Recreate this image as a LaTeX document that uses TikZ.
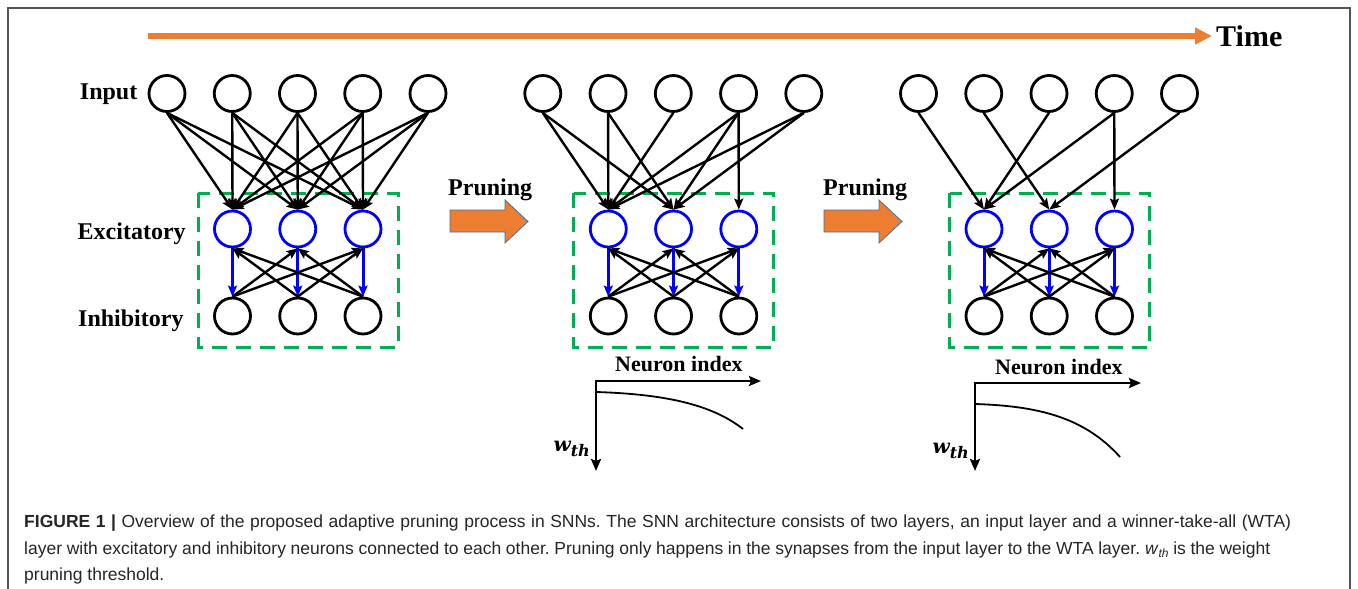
\documentclass[tikz,border=0pt]{standalone}
\usepackage{fontspec}
\setmainfont{Liberation Serif}
\setsansfont{Liberation Sans}
\newfontfamily\wfont{DejaVu Serif}
\usetikzlibrary{arrows.meta}
\frenchspacing

\definecolor{timeorange}{HTML}{ED7D31}
\definecolor{arrowedge}{HTML}{41719C}
\definecolor{wtagreen}{HTML}{00B050}
\definecolor{exblue}{HTML}{0000FF}
\definecolor{framegray}{HTML}{555555}
\definecolor{captext}{HTML}{262626}

% one SNN: #1 name prefix, #2 horizontal shift, #3 input->excitatory synapses
\newcommand\snnnet[3]{%
  \begin{scope}[xshift=#2pt]
    \draw[wtabox] (198,193) rectangle (398,347);
    \foreach \k in {1,...,5}
      \node[neuron] (#1i\k) at ({167+65.25*(\k-1)},93.5) {};
    \foreach \k in {1,2,3} {
      \node[exneuron] (#1e\k) at ({232.5+65.25*(\k-1)},229) {};
      \node[neuron] (#1h\k) at ({232.5+65.25*(\k-1)},316) {};
    }
  \end{scope}
  \foreach \s/\t in {#3}
    \draw[syn] (#1i\s.south) -- (#1e\t.north);
  \foreach \k in {1,2,3}
    \draw[exsyn] (#1e\k.south) -- (#1h\k.north);
  \foreach \j in {1,2,3} {
    \foreach \k in {1,2,3} {
      \ifnum\j=\k\else \draw[syn] (#1h\j.north) -- (#1e\k.south);\fi
    }
  }%
}

\begin{document}
\begin{tikzpicture}[x=1pt,y=-1pt,
  neuron/.style={circle,draw=black,fill=white,line width=2.8pt,minimum size=36pt,inner sep=0pt},
  exneuron/.style={neuron,draw=exblue},
  syn/.style={line width=2.4pt,-{Stealth[length=11pt,width=9pt,inset=2pt]}},
  exsyn/.style={exblue,line width=3pt,-{Stealth[length=11pt,width=9pt,inset=2pt]}},
  wtabox/.style={wtagreen,line width=3pt,dash pattern=on 15pt off 9pt},
  lbl/.style={inner sep=0pt,font=\fontsize{24}{28}\selectfont\bfseries},
  idx/.style={inner sep=0pt,font=\fontsize{22}{26}\selectfont\bfseries},
  graphaxis/.style={line width=2.7pt,line join=miter,
    {Stealth[length=12pt,width=10pt,inset=2pt]}-{Stealth[length=12pt,width=10pt,inset=2pt]}},
  wcurve/.style={line width=1.8pt},
  prune/.style={fill=timeorange,draw=arrowedge,line width=0.8pt},
  wlabel/.style={inner sep=0pt,anchor=base east,font=\wfont\bfseries\itshape\fontsize{20}{20}\selectfont},
  captxt/.style={inner sep=0pt,anchor=base west,text=captext,font=\sffamily\fontsize{17.5}{21}\selectfont}
]
\useasboundingbox (0,0) rectangle (1358,589);
\fill[white] (0,0) rectangle (1358,589);

% frame
\draw[framegray,line width=1.3pt] (8,600) -- (8,8) -- (1350,8) -- (1350,600);

% time axis
\coordinate (t0) at (148,36);
\coordinate (t1) at (1212,36);
\draw[timeorange,line width=6pt,-{Triangle[length=17pt,width=16pt]}] (t0) -- (t1);
\node[inner sep=0pt,anchor=base west,font=\fontsize{30}{34}\selectfont\bfseries] (time) at (1216,46.5) {Time};

% layer labels
\node[lbl,anchor=base east] (linput) at (137.5,99.5) {Input};
\node[lbl,anchor=base west] (lexc) at (77.5,239) {Excitatory};
\node[lbl,anchor=base west] (linh) at (78,326.5) {Inhibitory};

% the three networks
\snnnet{a}{0}{1/1,1/2,1/3,2/1,2/2,2/3,3/1,3/2,3/3,4/1,4/2,4/3,5/1,5/2,5/3}
\snnnet{b}{375.8}{1/1,1/2,2/1,2/2,3/1,4/1,4/2,4/3,5/1,5/2}
\snnnet{c}{751.5}{1/1,2/2,3/1,4/1,4/3,5/2}

% pruning steps
\node[lbl,anchor=base west] (p1) at (448,195.5) {Pruning};
\draw[prune] (450,210) -- (505,210) -- (505,200) -- (528,221.5) -- (505,243) -- (505,232) -- (450,232) -- cycle;
\node[lbl,anchor=base west] (p2) at (823,195.5) {Pruning};
\draw[prune] (824,210) -- (879,210) -- (879,200) -- (902,221.5) -- (879,243) -- (879,232) -- (824,232) -- cycle;

% threshold curves
\coordinate (go1) at (596,381);
\coordinate (gx1) at (761,381);
\coordinate (gy1) at (596,471);
\draw[graphaxis] (gx1) -- (go1) -- (gy1);
\draw[wcurve] (596,392) .. controls (660,394) and (710,403) .. (743,429);
\node[idx,anchor=base west] (n1) at (615,371.5) {Neuron index};
\node[wlabel] (w1) at (590,451) {w\raisebox{-5pt}{\fontsize{16}{16}\selectfont th}};

\coordinate (go2) at (975,383);
\coordinate (gx2) at (1141,383);
\coordinate (gy2) at (975,471);
\draw[graphaxis] (gx2) -- (go2) -- (gy2);
\draw[wcurve] (975,404) .. controls (1040,406) and (1085,418) .. (1120,457);
\node[idx,anchor=base west] (n2) at (995,374) {Neuron index};
\node[wlabel] (w2) at (969,453.5) {w\raisebox{-5pt}{\fontsize{16}{16}\selectfont th}};

% caption
\node[captxt] (c1) at (24,527) {\makebox[1267pt][s]{\textbf{FIGURE 1 |} Overview of the proposed adaptive pruning process in SNNs. The SNN architecture consists of two layers, an input layer and a winner-take-all (WTA)}};
\node[captxt] (c2) at (24,554) {\makebox[1246pt][s]{layer with excitatory and inhibitory neurons connected to each other. Pruning only happens in the synapses from the input layer to the WTA layer. \textit{w}\raisebox{-3pt}{\fontsize{12}{12}\selectfont\itshape th} is the weight}};
\node[captxt] (c3) at (24,580) {pruning threshold.};
\end{tikzpicture}
\end{document}
